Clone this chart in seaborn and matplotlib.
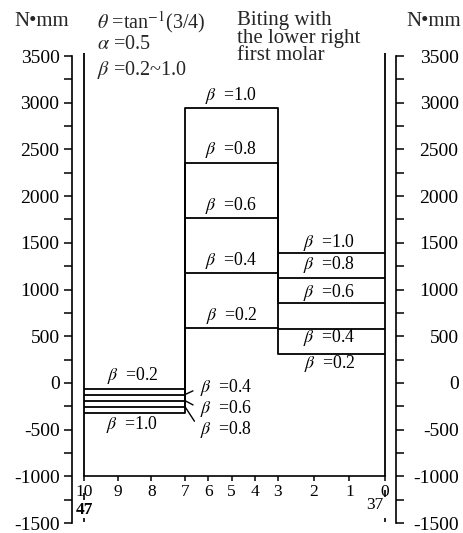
import numpy as np
import pandas as pd
import matplotlib
matplotlib.use("Agg")
import matplotlib.pyplot as plt
import matplotlib.transforms as mtransforms
import seaborn as sns

# Load-ratio cases and the bending moment (N·mm) on each span of the arch
beta = [0.2, 0.4, 0.6, 0.8, 1.0]
span_edges = [10, 7, 3, 0]
moment_10_7 = [-60, -125, -190, -255, -320]
moment_7_3 = [590, 1180, 1770, 2350, 2940]
moment_3_0 = [310, 580, 855, 1125, 1390]
x_ticks = list(range(0, 11))
y_ticks = list(range(-1500, 3501, 500))

rows = []
for b, m1, m2, m3 in zip(beta, moment_10_7, moment_7_3, moment_3_0):
    for x, m in zip(span_edges, [m1, m2, m3, m3]):
        rows.append({"position": x, "moment": m, "beta": b})
df = pd.DataFrame(rows)

sns.set_theme(style="ticks")
plt.rcParams["font.family"] = ["Liberation Serif", "DejaVu Serif"]
plt.rcParams["mathtext.fontset"] = "stix"
plt.rcParams["axes.unicode_minus"] = False

W, H = 463, 533
fig = plt.figure(figsize=(W / 100, H / 100), dpi=100)
fig.patch.set_facecolor("white")
ax = fig.add_axes([84 / W, 1 - 523 / H, (385 - 84) / W, (523 - 56) / H])
ax.set_facecolor("none")

# piecewise-linear horizontal scale: the three spans have different widths
_knots = [0, 3, 7, 10]
_disp = [0, 107, 200, 301]
ax.set_xscale("function", functions=(lambda v: np.interp(v, _knots, _disp),
                                     lambda d: np.interp(d, _disp, _knots)))

sns.lineplot(data=df, x="position", y="moment", units="beta", estimator=None,
             sort=False, color="black", lw=1.3, drawstyle="steps-post",
             legend=False, ax=ax)
ax.set_xlim(10, 0)
ax.set_ylim(-1500, 3500)
ax.set_xlabel("")
ax.set_ylabel("")

# frame lines at both ends of the arch
ax.vlines([10, 0], -1000, 3530, color="black", lw=1.3, clip_on=False)

# axes styling
ax.spines["top"].set_visible(False)
ax.spines["right"].set_visible(False)
ax.spines["left"].set_position(("outward", 8.6))
ax.spines["bottom"].set_position(("data", -1000))
for s in ("left", "bottom"):
    ax.spines[s].set_linewidth(1.2)
    ax.spines[s].set_color("black")

ax.set_xticks(x_ticks)
ax.set_xticklabels([str(v) for v in x_ticks])
ax.set_yticks(y_ticks)
ax.set_yticklabels([str(v) for v in y_ticks])
ax.set_yticks(list(range(-1250, 3500, 500)), minor=True)
ax.tick_params(axis="y", which="both", direction="out", length=6, width=1.1,
               colors="black", labelsize=14, pad=3)
ax.tick_params(axis="x", direction="out", length=3.5, width=1.1,
               colors="black", labelsize=12.5, pad=2)

ax2 = ax.twinx()
ax2.set_ylim(-1500, 3500)
ax2.set_facecolor("none")
for s in ("top", "left", "bottom"):
    ax2.spines[s].set_visible(False)
ax2.spines["right"].set_position(("outward", 8))
ax2.spines["right"].set_linewidth(1.2)
ax2.spines["right"].set_color("black")
ax2.set_yticks(y_ticks)
ax2.set_yticklabels([str(v) for v in y_ticks])
ax2.set_yticks(list(range(-1250, 3500, 500)), minor=True)
ax2.tick_params(axis="y", which="both", direction="out", length=6, width=1.1,
                colors="black", labelsize=14, pad=39)
for lab in ax2.get_yticklabels():
    lab.set_horizontalalignment("right")

# beta labels
FS = 12.8
lab_kw = dict(textcoords="offset pixels", ha="center", va="center",
              fontsize=FS, color="black")
mid_dy = [12, 12, 12, 14, 13]
for b, m, dy in zip(beta, moment_7_3, mid_dy):
    ax.annotate(f"$\\beta$  ={b:.1f}", xy=(5, m), xytext=(0, dy), **lab_kw)
right_dy = [-10, -9, 11, 13, 11]
for b, m, dy in zip(beta, moment_3_0, right_dy):
    ax.annotate(f"$\\beta$  ={b:.1f}", xy=(1.5, m), xytext=(-2, dy), **lab_kw)
ax.annotate(f"$\\beta$  ={beta[0]:.1f}", xy=(8.5, moment_10_7[0]), xytext=(-2, 13), **lab_kw)
ax.annotate(f"$\\beta$  ={beta[-1]:.1f}", xy=(8.5, moment_10_7[-1]), xytext=(-2, -12), **lab_kw)
for b, m, dy in zip(beta[1:4], moment_10_7[1:4], [7, -8, -23]):
    ax.annotate(f"$\\beta$  ={b:.1f}", xy=(7, m), xytext=(15, dy),
                textcoords="offset pixels", ha="left", va="center",
                fontsize=FS, color="black",
                arrowprops=dict(arrowstyle="-", color="black", lw=1.0,
                                relpos=(0, 0.5), shrinkA=3, shrinkB=0))

# tooth markers below the arch ends
trans = mtransforms.blended_transform_factory(ax.transData, ax.transData)
ax.vlines(10, -1253, -1178, color="black", lw=1.2, clip_on=False)
ax.vlines(10, -1488, -1445, color="black", lw=1.2, clip_on=False)
ax.text(10, -1360, "47", ha="center", va="center", fontsize=12.5,
        fontweight="bold", color="black", transform=trans)
ax.vlines(0, -1220, -1145, color="black", lw=1.2, clip_on=False)
ax.vlines(0, -1488, -1445, color="black", lw=1.2, clip_on=False)
ax.text(0.05, -1306, "37", ha="right", va="center", fontsize=12.5,
        color="black", transform=trans)

# header texts
def fx(px):
    return px / W

def fy(py):
    return 1 - py / H

fig.text(fx(14), fy(21), "N•mm", ha="left", va="center", fontsize=15)
fig.text(fx(461), fy(21), "N•mm", ha="right", va="center", fontsize=15)
fig.text(fx(97), fy(22), r"$\theta$ =tan$^{-1}$(3/4)", ha="left", va="center", fontsize=14.5)
fig.text(fx(97), fy(45), r"$\alpha$ =0.5", ha="left", va="center", fontsize=14.5)
fig.text(fx(97), fy(70), r"$\beta$ =0.2~1.0", ha="left", va="center", fontsize=14.5)
for py, line in zip([20, 38, 56], ["Biting with", "the lower right", "first molar"]):
    fig.text(fx(237), fy(py), line, ha="left", va="center", fontsize=15)

fig.savefig("out.png", dpi=100, facecolor="white")
